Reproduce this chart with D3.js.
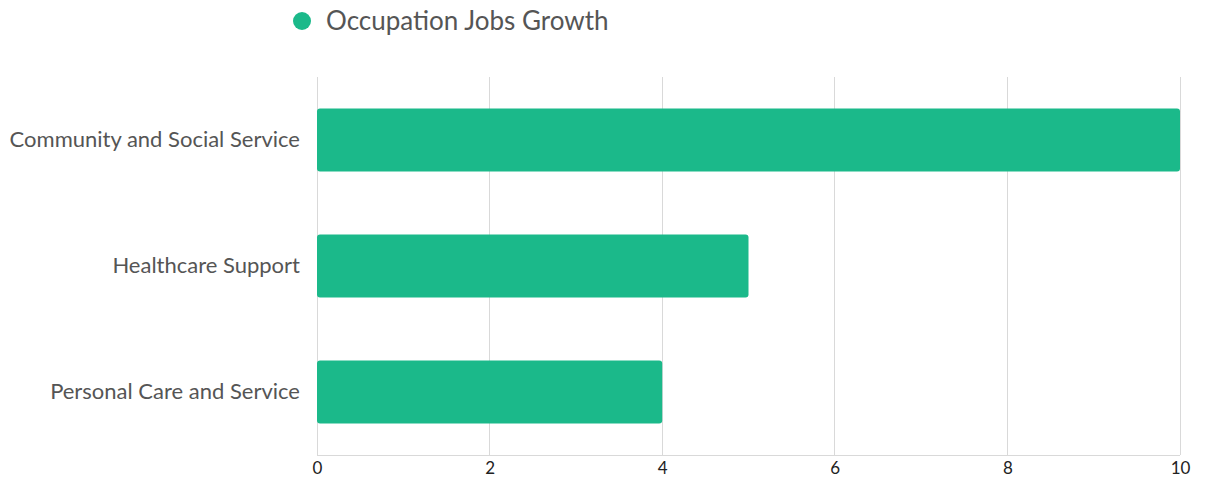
<!DOCTYPE html>
<html>
<head>
<meta charset="utf-8">
<script src="https://cdn.jsdelivr.net/npm/d3@7"></script>
<style>
  html, body { margin: 0; padding: 0; background: #fff; }
  svg { display: block; font-family: Lato, "Open Sans", sans-serif; }
</style>
</head>
<body>
<svg id="chart" width="1210" height="482"></svg>
<script>
// Occupation job growth by category
const categories = ["Community and Social Service", "Healthcare Support", "Personal Care and Service"];
const growth = [10, 5, 4];
const xTicks = [0, 2, 4, 6, 8, 10];
const seriesName = "Occupation Jobs Growth";

const svg = d3.select("#chart");
const margin = { left: 317, right: 30, top: 77, bottom: 27 };
const W = 1210, H = 482;
const color = "#1bb98a";

const x = d3.scaleLinear().domain([0, 10]).range([margin.left, W - margin.right]);
const y = d3.scaleBand().domain(categories).range([margin.top, H - margin.bottom])
  .paddingInner(0.5).paddingOuter(0.25);

// vertical grid lines
svg.append("g")
  .selectAll("line")
  .data(xTicks)
  .join("line")
  .attr("x1", d => x(d)).attr("x2", d => x(d))
  .attr("y1", margin.top).attr("y2", H - margin.bottom)
  .attr("stroke", "#d9d9d9").attr("stroke-width", 1)
  .attr("shape-rendering", "crispEdges");

// baseline
svg.append("line")
  .attr("x1", x(0)).attr("x2", x(10))
  .attr("y1", H - margin.bottom).attr("y2", H - margin.bottom)
  .attr("stroke", "#d9d9d9").attr("shape-rendering", "crispEdges");

// bars
svg.append("g")
  .selectAll("rect")
  .data(categories.map((c, i) => ({ c, v: growth[i] })))
  .join("rect")
  .attr("x", x(0))
  .attr("y", d => y(d.c))
  .attr("width", d => x(d.v) - x(0))
  .attr("height", y.bandwidth())
  .attr("rx", 3).attr("ry", 3)
  .attr("fill", color);

// x axis labels
const xAxis = d3.axisBottom(x).tickValues(xTicks).tickSize(0).tickPadding(7).tickFormat(d3.format("d"));
const gx = svg.append("g").attr("transform", `translate(0,${H - margin.bottom})`).call(xAxis);
gx.select(".domain").remove();
gx.selectAll("text").attr("font-size", 17).attr("fill", "#222").style("font-family", "Lato, sans-serif");

// y axis labels
const yAxis = d3.axisLeft(y).tickSize(0).tickPadding(17);
const gy = svg.append("g").attr("transform", `translate(${margin.left},0)`).call(yAxis);
gy.select(".domain").remove();
gy.selectAll("text").attr("font-size", 22).attr("fill", "#555").style("font-family", "Lato, sans-serif");

// legend
const legend = svg.append("g").attr("transform", "translate(302,21)");
legend.append("circle").attr("r", 9).attr("fill", color);
legend.append("text").attr("x", 24).attr("dy", "0.35em")
  .attr("font-size", 26).attr("fill", "#555").text(seriesName);
</script>
</body>
</html>
